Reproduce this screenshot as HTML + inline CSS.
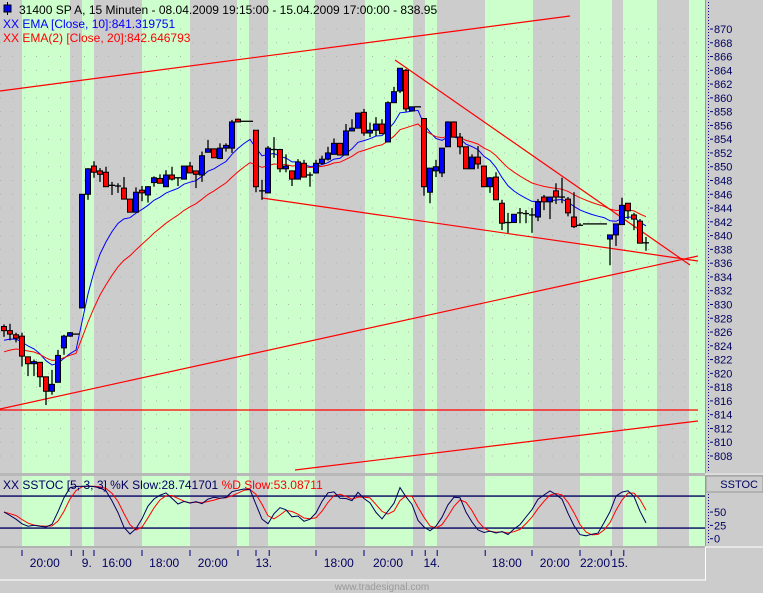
<!DOCTYPE html>
<html><head><meta charset="utf-8"><style>
body{margin:0;background:#cccccc;}
svg{display:block;font-family:"Liberation Sans",sans-serif;}
</style></head><body>
<svg id="chart" width="763" height="593" viewBox="0 0 763 593" xmlns="http://www.w3.org/2000/svg">
<rect x="0" y="0" width="763" height="593" fill="#cccccc"/>
<g id="bands"></g><g id="grid"></g><g id="lines"></g><g id="emas"></g><g id="candles"></g>
<g id="stoch"></g><g id="axes"></g>
<g font-size="12">
<rect x="4" y="5" width="7" height="7" fill="#0000ff" stroke="#000"/>
<line x1="7.5" y1="2" x2="7.5" y2="15" stroke="#000"/>
<text x="19" y="14" fill="#000">31400  SP A, 15 Minuten - 08.04.2009 19:15:00 - 15.04.2009 17:00:00 - 838.95</text>
<text x="3" y="28" fill="#0000ff">XX EMA [Close, 10]:841.319751</text>
<text x="3" y="42" fill="#ff0000">XX EMA(2) [Close, 20]:842.646793</text>
</g>
<text x="3" y="489" font-size="12" fill="#000060">XX SSTOC [5, 3, 3] %K Slow:28.741701 <tspan fill="#ff0000">%D Slow:53.08711</tspan></text>
<text x="382" y="590" font-size="10" fill="#999999" text-anchor="middle">www.tradesignal.com</text>
</svg>
<script>
const opens=[826.8,826.2,825.6,825.4,822.4,821.4,821.6,819.5,817.4,818.7,823.7,825.4,825.7,829.5,846.0,850.1,849.4,849.2,847.0,847.1,846.9,845.3,843.4,846.6,845.9,847.7,848.3,847.1,848.8,848.3,848.2,850.1,849.4,848.8,852.1,852.6,851.2,852.7,852.7,856.9,856.6,856.6,855.3,846.5,846.2,852.5,852.5,849.7,849.4,848.2,850.5,848.8,849.1,850.5,851.1,851.8,853.4,851.7,855.2,855.6,857.9,854.9,855.3,856.2,853.6,859.3,861.0,864.0,858.1,858.7,857.0,846.3,849.4,849.1,852.9,856.5,854.3,852.9,849.7,851.4,850.1,847.1,848.5,844.7,841.8,841.9,843.3,843.2,843.0,842.7,845.6,844.9,846.5,845.6,845.3,842.7,841.8,841.7,841.7,841.7,841.7,839.5,840.1,841.6,844.7,843.0,842.1,838.9];
const highs=[827.1,827.2,825.9,825.9,822.4,822.0,821.6,819.5,820.5,823.4,825.6,826.0,825.7,846.0,849.8,850.8,849.8,850.0,847.8,847.6,848.5,845.3,847.0,847.2,847.2,848.6,848.9,849.5,850.0,848.4,850.1,850.7,849.4,852.2,853.9,852.6,853.4,853.4,856.8,857.0,856.6,856.6,855.3,848.1,853.0,854.3,852.6,851.8,849.4,851.1,851.0,849.2,851.0,851.6,852.9,854.1,853.4,856.2,856.9,857.8,858.4,856.4,857.2,856.9,859.5,861.6,864.3,864.2,858.7,858.7,857.0,849.8,851.0,852.7,856.6,856.6,854.9,852.9,851.8,853.0,850.1,848.5,849.2,845.2,843.3,843.1,844.0,843.7,844.0,845.3,845.9,845.6,847.6,848.4,845.6,846.3,841.8,841.7,841.7,841.7,841.7,840.1,841.7,845.5,844.7,843.3,842.4,839.8];
const lows=[825.3,824.8,824.5,821.0,819.6,819.6,818.0,815.4,816.9,818.7,822.7,825.3,825.7,829.5,845.2,848.4,847.8,847.1,845.9,846.2,845.3,843.4,843.4,845.0,844.8,847.1,847.6,847.1,848.0,847.2,848.2,849.1,846.9,847.8,852.1,851.3,851.1,852.2,852.0,856.5,856.6,856.6,846.3,845.2,846.2,851.3,849.2,849.2,847.2,848.2,848.5,847.1,849.0,850.3,850.9,851.8,851.7,851.7,855.2,855.6,854.5,854.3,854.5,854.8,853.6,859.3,860.7,858.0,858.1,858.7,845.8,844.7,848.5,848.5,852.9,854.3,851.8,849.7,849.7,849.7,847.1,846.2,845.2,840.8,840.4,841.9,841.8,841.8,840.4,842.1,843.7,842.4,844.6,844.7,842.8,841.1,841.5,841.7,841.7,841.7,841.7,835.7,838.5,841.6,842.4,840.8,838.9,837.8];
const closes=[826.2,825.7,825.1,822.5,821.4,821.7,819.5,817.4,818.4,822.6,825.4,825.9,825.7,846.0,849.7,849.2,848.9,847.1,847.3,847.2,845.3,843.4,846.3,846.2,847.1,848.4,847.6,848.8,848.2,848.4,850.1,849.1,848.9,851.6,852.6,851.3,852.7,853.1,856.5,856.5,856.6,856.6,847.1,846.5,852.7,852.5,849.7,850.1,848.2,850.7,848.5,848.8,850.5,851.1,852.0,853.4,851.7,855.2,855.6,857.8,854.9,855.3,856.2,854.8,859.3,860.9,864.3,858.4,858.7,858.7,847.1,849.8,850.0,852.7,856.5,854.3,852.9,849.7,851.4,850.4,847.1,848.4,845.2,841.8,841.9,843.1,843.3,843.2,843.0,844.9,844.9,845.6,845.6,845.6,843.3,841.3,841.5,841.7,841.7,841.7,841.7,840.1,841.7,844.4,843.6,842.4,838.9,838.95];
const priceTicks=[870,868,866,864,862,860,858,856,854,852,850,848,846,844,842,840,838,836,834,832,830,828,826,824,822,820,818,816,814,812,810,808];
const stochTicks=[50,25,0];
const timeLabels=["20:00","9.","16:00","18:00","20:00","13.","18:00","20:00","14.","18:00","20:00","22:00","15."];
const timeLabelBars=[6.8,13.8,18.8,26.7,34.8,43.3,55.8,64,71.3,83.8,91.8,98.5,102.6];
const timeTickBars=[3,11.2,13.2,15,23,31,39,42,44.2,52,60,68,70.2,72.2,80.2,88,96,101.2,103.3];
const NS='http://www.w3.org/2000/svg';
const X=i=>4+6*i;
const Y=p=>29+(870-p)*6.887;
const SY=v=>538.7-v*0.533;
function mk(parent,tag,attrs){const e=document.createElementNS(NS,tag);for(const k in attrs)e.setAttribute(k,attrs[k]);document.getElementById(parent).appendChild(e);return e;}
// session bands
const bandL=[22,82,142,237,268,365,425,485,580,623,689];
const bandR=[70,94,190,249,315,413,437,533,612,657,705];
bandL.forEach((l,k)=>{
 let e=mk('bands','rect',{x:l,y:0,width:bandR[k]-l,height:473,fill:'#ccffcc'});
 
 
 let f=mk('bands','rect',{x:l,y:476,width:bandR[k]-l,height:70,fill:'#ccffcc'});
 
 
});
// grid dots
priceTicks.forEach(p=>{let g=mk('grid','line',{x1:0,x2:705,y1:Y(p),y2:Y(p),stroke:'#a8b8a8','stroke-width':1,'stroke-dasharray':'1 11'});
 
 });
// trend lines
const tl=[[0,91,570,16],[0,410,698,410],[295,470,698,421],[0,409,698,256],[262,198,698,261],[395,60,690,265]];
tl.forEach(t=>{let e=mk('lines','line',{x1:t[0],y1:t[1],x2:t[2],y2:t[3],stroke:'#ff0000','stroke-width':1.2});
 
 });
// EMAs
function ema(n,seed){let a=2/(n+1),v=seed,out=[];closes.forEach(c=>{v=v+a*(c-v);out.push(v);});return out;}
const e10=ema(10,824.5),e20=ema(20,822.8);
let p1=mk('emas','polyline',{points:e10.map((v,i)=>X(i)+','+Y(v).toFixed(1)).join(' '),fill:'none',stroke:'#0000ff','stroke-width':1});


let p2=mk('emas','polyline',{points:e20.map((v,i)=>X(i)+','+Y(v).toFixed(1)).join(' '),fill:'none',stroke:'#ff0000','stroke-width':1});


// candles
closes.forEach((c,i)=>{
 const o=opens[i],x=X(i);
 let w=mk('candles','line',{x1:x,x2:x,y1:Y(highs[i]),y2:Y(lows[i]),stroke:'#000','stroke-width':1.3});
 
 
 if(Math.abs(c-o)<0.3){
  let d=mk('candles','line',{x1:x-3,x2:x+3,y1:Y(c),y2:Y(c),stroke:'#000','stroke-width':1.3});
  
  
 }else{
  const t=Y(Math.max(o,c)),b=Y(Math.min(o,c));
  let r=mk('candles','rect',{x:x-2.5,y:t,width:5,height:b-t,fill:c>o?'#0000ff':'#ff0000',stroke:'#000','stroke-width':1});
  
  
 }
});
// stochastic
const fast=closes.map((c,i)=>{const s=Math.max(0,i-4);let hh=-1e9,ll=1e9;for(let j=s;j<=i;j++){hh=Math.max(hh,highs[j]);ll=Math.min(ll,lows[j]);}return hh-ll<0.01?50:(c-ll)/(hh-ll)*100;});
function sma(a,n){return a.map((v,i)=>{const s=Math.max(0,i-n+1);let t=0;for(let j=s;j<=i;j++)t+=a[j];return t/(i-s+1);});}
const kS=sma(fast,3),dS=sma(kS,3);
[80,20].forEach(v=>{let e=mk('stoch','line',{x1:0,x2:705,y1:SY(v),y2:SY(v),stroke:'#000060','stroke-width':1.3});
 
 });
let sd=mk('stoch','polyline',{points:dS.map((v,i)=>X(i)+','+SY(v).toFixed(1)).join(' '),fill:'none',stroke:'#ff0000','stroke-width':1});


let sk=mk('stoch','polyline',{points:kS.map((v,i)=>X(i)+','+SY(v).toFixed(1)).join(' '),fill:'none',stroke:'#000060','stroke-width':1});


// axes / panels
let a1=mk('axes','line',{x1:705.5,x2:705.5,y1:0,y2:546,stroke:'#999','stroke-width':1});


let a2=mk('axes','line',{x1:708.5,x2:708.5,y1:2,y2:471,stroke:'#000080','stroke-dasharray':'1 2'});


let sep=mk('axes','rect',{x:0,y:473,width:763,height:3,fill:'#b8b8b8'});


let sep2=mk('axes','line',{x1:705,x2:763,y1:474,y2:474,stroke:'#fff'});


priceTicks.forEach(p=>{
 let t=mk('axes','line',{x1:710,x2:713,y1:Y(p),y2:Y(p),stroke:'#000080'});
 
 
 let l=mk('axes','text',{x:714,y:Y(p)+4,'font-size':11,fill:'#000060'});l.textContent=p;
 
 
});
let sb=mk('axes','rect',{x:706,y:476,width:57,height:16,fill:'#cccccc',stroke:'#999'});


let st=mk('axes','text',{x:758,y:488,'font-size':11,fill:'#000060','text-anchor':'end'});st.textContent='SSTOC';


let a3=mk('axes','line',{x1:708.5,x2:708.5,y1:494,y2:545,stroke:'#000080','stroke-dasharray':'1 2'});


stochTicks.forEach(v=>{
 let t=mk('axes','line',{x1:710,x2:713,y1:SY(v),y2:SY(v),stroke:'#000080'});
 
 
 let l=mk('axes','text',{x:714,y:SY(v)+4,'font-size':11,fill:'#000060'});l.textContent=v;
 
 
});
let wl=mk('axes','line',{x1:705,x2:763,y1:547,y2:547,stroke:'#fff'});


let tb=mk('axes','rect',{x:0,y:546,width:705,height:34,fill:'#cccccc'});


let tbt=mk('axes','line',{x1:0,x2:705,y1:547,y2:547,stroke:'#999'});


let tbb=mk('axes','polyline',{points:'0,580 705.5,580 705.5,547',fill:'none',stroke:'#fff'});


timeTickBars.forEach(b=>{let t=mk('axes','line',{x1:X(b),x2:X(b),y1:550,y2:556,stroke:'#000080'});
 
 });
timeLabels.forEach((s,k)=>{let l=mk('axes','text',{x:X(timeLabelBars[k]),y:567,'font-size':12,fill:'#000060','text-anchor':'middle'});l.textContent=s;
 
 });
</script>
</body></html>
